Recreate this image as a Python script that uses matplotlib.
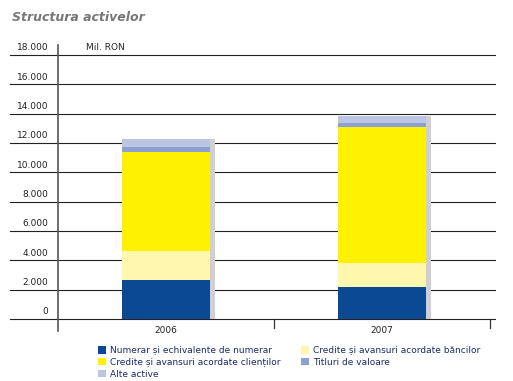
import matplotlib.pyplot as plt
from matplotlib.patches import Patch

# ----------------------
# DATA (Mil. RON)
# ----------------------
years = ["2006", "2007"]
numerar = [2660, 2200]
credite_banci = [1980, 1600]
credite_clienti = [6770, 9270]
titluri = [340, 315]
alte_active = [500, 455]

series = [
    ("Numerar și echivalente de numerar", numerar, "#0b4a92"),
    ("Credite și avansuri acordate băncilor", credite_banci, "#fff7ad"),
    ("Credite și avansuri acordate clienților", credite_clienti, "#fff200"),
    ("Titluri de valoare", titluri, "#8e9fd2"),
    ("Alte active", alte_active, "#bcc5e2"),
]
yticks = list(range(0, 18001, 2000))

# ----------------------
# FIGURE
# ----------------------
fig = plt.figure(figsize=(5.13, 3.81), dpi=100)
ax = fig.add_axes([0.0195, 0.1627, 0.945, 0.693])
ax.set_xlim(-0.722, 1.523)
ax.set_ylim(0, 18000)
for s in ax.spines.values():
    s.set_visible(False)
ax.set_xticks([])
ax.set_yticks([])

for v in yticks:
    ax.axhline(v, color="#222222", lw=0.8, zorder=0, clip_on=False)
    lab = "0" if v == 0 else f"{v // 1000}.{v % 1000:03d}"
    ax.text(-0.545, v + 180, lab, ha="right", va="bottom", fontsize=6.5, color="#222222")

ax.plot([-0.5, -0.5], [-800, 18700], color="#555555", lw=1.2, clip_on=False, zorder=1)
for xt in [0.5, 1.5]:
    ax.plot([xt, xt], [-600, 0], color="#333333", lw=0.9, clip_on=False)
ax.text(-0.37, 18200, "Mil. RON", fontsize=6.5, color="#222222", va="bottom")

x = range(len(years))
width = 0.41
totals = [sum(s[1][i] for s in series) for i in x]
# shadow on the right side of the bars
ax.bar([i + width / 2 + 0.012 for i in x], totals, width=0.024, color="#d0d0d4", zorder=2)
bottom = [0, 0]
for name, vals, col in series:
    ax.bar(x, vals, width=width, bottom=bottom, color=col, zorder=3, linewidth=0)
    bottom = [b + v for b, v in zip(bottom, vals)]

for i, y in enumerate(years):
    ax.text(i, -500, y, ha="center", va="top", fontsize=6.5, color="#222222")

fig.text(0.023, 0.955, "Structura activelor", fontsize=9, style="italic",
         fontweight="bold", color="#777777", va="center")

order = [0, 2, 4, 1, 3]
handles = [Patch(facecolor=series[k][2], edgecolor="none", label=series[k][0]) for k in order]
fig.legend(handles=handles, loc="upper left", bbox_to_anchor=(0.191, 0.092), ncol=2,
           frameon=False, fontsize=6.5, handlelength=0.9, handleheight=0.9,
           handletextpad=0.4, columnspacing=2.3, labelspacing=0.3, borderaxespad=0,
           borderpad=0, labelcolor="#1d2a6b")

fig.savefig("out.png", dpi=100)
